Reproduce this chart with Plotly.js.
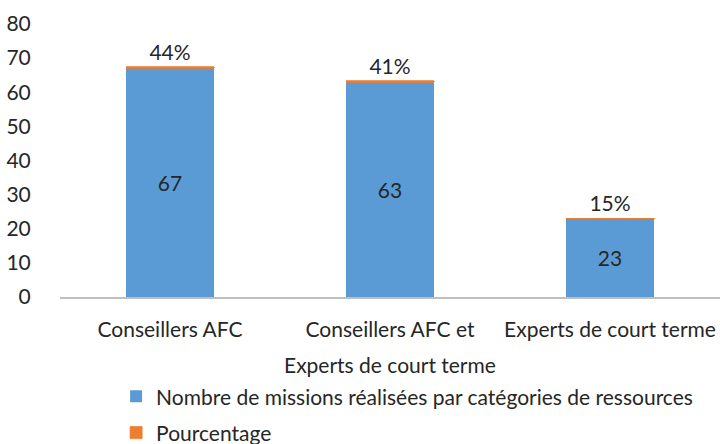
<!DOCTYPE html>
<html><head><meta charset="utf-8">
<script src="https://cdn.plot.ly/plotly-3.0.1.min.js"></script>
<style>html,body{margin:0;padding:0;background:#fff}#chart{width:720px;height:444px}</style>
</head><body><div id="chart"></div>
<script>
const categories = ["Conseillers AFC", "Conseillers AFC et", "Experts de court terme"];
const secondLine = "Experts de court terme";
const missions = [67, 63, 23];
const pourcentage = [0.44, 0.41, 0.15];
const pourcentageLabels = ["44%", "41%", "15%"];
const seriesNames = ["Nombre de missions réalisées par catégories de ressources", "Pourcentage"];

const txt = '#262626';
const F = 'Lato, "Open Sans", sans-serif';
const FS = 21;
const data = [
  {type:'bar', x:categories, y:missions, name:seriesNames[0], legendgroup:'a',
   marker:{color:'#5B9BD5'}, text:missions.map(String), textposition:'inside',
   insidetextanchor:'middle', textfont:{color:txt, size:FS, family:F}, hoverinfo:'none'},
  {type:'bar', x:categories, y:pourcentage, name:seriesNames[1], legendgroup:'b',
   marker:{color:'#ED7D31', line:{color:'#ED7D31', width:0.8}}, text:pourcentageLabels, textposition:'outside',
   textfont:{color:txt, size:FS, family:F}, cliponaxis:false, hoverinfo:'none'}
];
const layout = {
  width:720, height:444, barmode:'stack', bargap:0.6,
  margin:{l:60, r:0, t:24, b:147, autoexpand:false},
  paper_bgcolor:'#fff', plot_bgcolor:'#fff',
  font:{family:F, size:FS, color:txt},
  xaxis:{type:'category', showline:true, linecolor:'#BFBFBF', linewidth:1.5,
         ticks:'outside', ticklen:13, tickcolor:'rgba(0,0,0,0)', showgrid:false, zeroline:false,
         tickfont:{size:FS, color:txt}},
  yaxis:{range:[0,80], dtick:10, showgrid:false, zeroline:false, showline:false,
         ticks:'outside', ticklen:24, tickcolor:'rgba(0,0,0,0)', tickfont:{size:FS, color:txt}},
  showlegend:true,
  legend:{orientation:'v', x:0.085, xanchor:'left', y:-0.29, yanchor:'top',
          tracegroupgap:6, font:{size:FS, color:txt}, traceorder:'grouped'},
  annotations:[{xref:'x', yref:'paper', x:categories[1], y:-0.249, yanchor:'middle',
                text:secondLine, showarrow:false, font:{size:FS, color:txt}}]
};
Plotly.newPlot('chart', data, layout, {displayModeBar:false, staticPlot:true});
</script></body></html>
